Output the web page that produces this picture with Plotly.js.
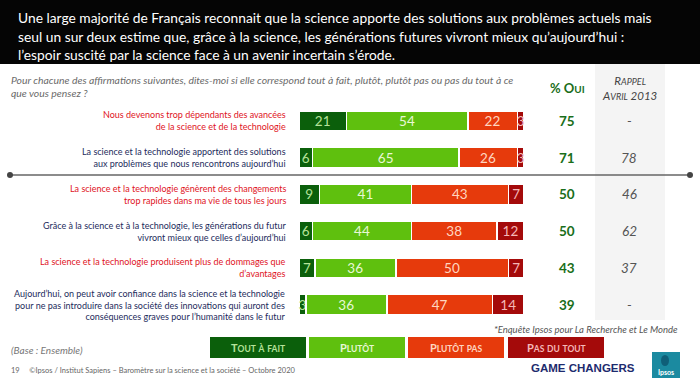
<!DOCTYPE html>
<html><head><meta charset="utf-8">
<script src="https://cdn.plot.ly/plotly-3.0.1.min.js"></script>
<style>html,body{margin:0;padding:0;background:#fff}</style>
</head><body><div id="chart" style="width:700px;height:378px"></div>
<script>
// ---------- DATA ----------
const statements = [
  "Nous devenons trop dépendants des avancées<br>de la science et de la technologie",
  "La science et la technologie apportent des solutions<br>aux problèmes que nous rencontrons aujourd’hui",
  "La science et la technologie génèrent des changements<br>trop rapides dans ma vie de tous les jours",
  "Grâce à la science et à la technologie, les générations du futur<br>vivront mieux que celles d’aujourd’hui",
  "La science et la technologie produisent plus de dommages que<br>d’avantages",
  "Aujourd’hui, on peut avoir confiance dans la science et la technologie<br>pour ne pas introduire dans la société des innovations qui auront des<br>conséquences graves pour l’humanité dans le futur"
];
const seriesNames = ["Tout à fait", "Plutôt", "Plutôt pas", "Pas du tout"];
const toutAFait = [21, 6, 9, 6, 7, 3];
const plutot    = [54, 65, 41, 44, 36, 36];
const plutotPas = [22, 26, 43, 38, 50, 47];
const pasDuTout = [3, 3, 7, 12, 7, 14];
const pctOui    = [75, 71, 50, 50, 43, 39];
const rappel2013 = ["-", "78", "46", "62", "37", "-"];

// ---------- STYLE ----------
const W = 700, H = 378;
const xp = v => v / W;
const yp = v => 1 - v / H;
const FONT = "Lato, 'Open Sans', sans-serif";
const segColors = ["#0b5f0b", "#5fc00e", "#e63a0c", "#a40a0a"];
const segText = ["#b5e39a", "#e8f8d6", "#ffd6c0", "#f4b8b8"];
const rowTone = ["#e0141e", "#1d2b5c", "#e0141e", "#1d2b5c", "#e0141e", "#1d2b5c"];
const series = [toutAFait, plutot, plutotPas, pasDuTout];

const traces = series.map((vals, i) => ({
  type: "bar", orientation: "h", name: seriesNames[i],
  x: vals, y: statements,
  marker: {color: segColors[i], line: {color: "#ffffff", width: 1.5}},
  text: vals.map(String), texttemplate: "%{text}",
  textposition: "inside", insidetextanchor: "middle", textangle: 0,
  constraintext: "none",
  textfont: {family: FONT, size: 13.5, color: segText[i]},
  hoverinfo: "skip", cliponaxis: false
}));

const ann = [];
// title
const titleLines = [
  "Une large majorité de Français reconnait que la science apporte des solutions aux problèmes actuels mais",
  "seul un sur deux estime que, grâce à la science, les générations futures vivront mieux qu’aujourd’hui :",
  "l’espoir suscité par la science face à un avenir incertain s’érode."
];
titleLines.forEach((t, i) => ann.push({xref: "paper", yref: "paper", x: xp(16), y: yp(17 + i * 19),
  xanchor: "left", yanchor: "middle", showarrow: false, text: t,
  font: {family: FONT, size: 13.8, color: "#ffffff"}}));
// subtitle
const subLines = [
  "Pour chacune des affirmations suivantes, dites-moi si elle correspond tout à fait, plutôt, plutôt pas ou pas du tout à ce",
  "que vous pensez ?"
];
subLines.forEach((t, i) => ann.push({xref: "paper", yref: "paper", x: xp(9), y: yp(79.5 + i * 13.5),
  xanchor: "left", yanchor: "middle", showarrow: false, text: "<i>" + t + "</i>",
  font: {family: FONT, size: 10.4, color: "#6a6a6a"}}));
// headers
ann.push({xref: "paper", yref: "paper", x: xp(567), y: yp(88), xanchor: "center", yanchor: "middle",
  showarrow: false, text: "<b>% O<span style='font-size:10px'>UI</span></b>",
  font: {family: FONT, size: 13, color: "#1a6e1a"}});
ann.push({xref: "paper", yref: "paper", x: xp(629), y: yp(88), xanchor: "center", yanchor: "middle",
  showarrow: false, align: "center",
  text: "<i>R<span style='font-size:9px'>APPEL</span><br>A<span style='font-size:9px'>VRIL</span> 2013</i>",
  font: {family: FONT, size: 11.5, color: "#444"}});
// row labels & side columns
statements.forEach((s, i) => {
  ann.push({xref: "paper", yref: "y", x: xp(288), y: s, xanchor: "right", yanchor: "middle",
    showarrow: false, align: "right", text: s,
    font: {family: FONT, size: 9, color: rowTone[i]}});
  ann.push({xref: "paper", yref: "y", x: xp(567), y: s, xanchor: "center", yanchor: "middle",
    showarrow: false, text: "<b>" + pctOui[i] + "</b>",
    font: {family: FONT, size: 13.5, color: "#1a6e1a"}});
  ann.push({xref: "paper", yref: "y", x: xp(629), y: s, xanchor: "center", yanchor: "middle",
    showarrow: false, text: "<i>" + rappel2013[i] + "</i>",
    font: {family: FONT, size: 13.5, color: "#555"}});
});
// source note
ann.push({xref: "paper", yref: "paper", x: xp(680), y: yp(329), xanchor: "right", yanchor: "middle",
  showarrow: false, text: "<i>*Enquête Ipsos pour La Recherche et Le Monde</i>",
  font: {family: FONT, size: 9.5, color: "#555"}});
ann.push({xref: "paper", yref: "paper", x: xp(9), y: yp(350), xanchor: "left", yanchor: "middle",
  showarrow: false, text: "<i>(Base : Ensemble)</i>", font: {family: FONT, size: 10, color: "#777"}});
ann.push({xref: "paper", yref: "paper", x: xp(9), y: yp(370), xanchor: "left", yanchor: "middle",
  showarrow: false, text: "19&nbsp;&nbsp;&nbsp;&nbsp;&nbsp;©Ipsos / Institut Sapiens – Baromètre sur la science et la société – Octobre 2020",
  font: {family: FONT, size: 7.5, color: "#666"}});
ann.push({xref: "paper", yref: "paper", x: xp(583), y: yp(368), xanchor: "center", yanchor: "middle",
  showarrow: false, text: "<b>GAME CHANGERS</b>", font: {family: "'Liberation Sans', Arial, sans-serif", size: 11.5, color: "#1d2b6e"}});
ann.push({xref: "paper", yref: "paper", x: xp(666), y: yp(372), xanchor: "center", yanchor: "middle",
  showarrow: false, text: "<b>Ipsos</b>", font: {family: FONT, size: 7, color: "#ffffff"}});

const shapes = [
  {type: "rect", xref: "paper", yref: "paper", x0: 0, x1: 1, y0: yp(64), y1: 1,
    fillcolor: "#050505", line: {width: 0}, layer: "below"},
  {type: "rect", xref: "paper", yref: "paper", x0: xp(595), x1: xp(665), y0: yp(320), y1: yp(64),
    fillcolor: "#f4f4f4", line: {width: 0}, layer: "below"},
  {type: "line", xref: "paper", yref: "paper", x0: xp(10), x1: xp(690), y0: yp(175), y1: yp(175),
    line: {color: "#666", width: 1.5}},
  {type: "circle", xref: "paper", yref: "paper", x0: xp(7), x1: xp(13), y0: yp(178), y1: yp(172),
    fillcolor: "#444", line: {width: 0}},
  {type: "circle", xref: "paper", yref: "paper", x0: xp(687), x1: xp(693), y0: yp(178), y1: yp(172),
    fillcolor: "#444", line: {width: 0}},
  {type: "rect", xref: "paper", yref: "paper", x0: xp(652), x1: xp(680), y0: yp(378), y1: yp(352),
    fillcolor: "#1b8aa0", line: {width: 0}},
  {type: "circle", xref: "paper", yref: "paper", x0: xp(661), x1: xp(669), y0: yp(366), y1: yp(355),
    fillcolor: "#0f5f78", line: {width: 0}}
];
// legend boxes
const legX = [210, 309, 408, 508];
seriesNames.forEach((n, i) => {
  shapes.push({type: "rect", xref: "paper", yref: "paper", x0: xp(legX[i]), x1: xp(legX[i] + 96),
    y0: yp(358), y1: yp(337), fillcolor: segColors[i], line: {width: 0}});
  const sc = n.split(" ").map(w => w[0] === w[0].toUpperCase() && w[0] !== w[0].toLowerCase()
      ? w[0] + "<span style='font-size:8.5px'>" + w.slice(1).toUpperCase() + "</span>"
      : "<span style='font-size:8.5px'>" + w.toUpperCase() + "</span>").join(" ");
  ann.push({xref: "paper", yref: "paper", x: xp(legX[i] + 48), y: yp(347.5), xanchor: "center", yanchor: "middle",
    showarrow: false, text: "<b>" + sc + "</b>", font: {family: FONT, size: 11, color: segText[i]}});
});

const layout = {
  width: W, height: H, margin: {l: 0, r: 0, t: 0, b: 0},
  paper_bgcolor: "#ffffff", plot_bgcolor: "rgba(0,0,0,0)",
  barmode: "stack", bargap: 0.455, showlegend: false,
  uniformtext: {mode: "show", minsize: 13.5},
  xaxis: {domain: [xp(299), xp(524)], range: [0, 100], visible: false, fixedrange: true},
  yaxis: {domain: [yp(323), yp(102.6)], type: "category", range: [5.5, -0.5],
    visible: false, fixedrange: true},
  annotations: ann, shapes: shapes,
  font: {family: FONT}
};
Plotly.newPlot("chart", traces, layout, {displayModeBar: false, staticPlot: true});
</script></body></html>
